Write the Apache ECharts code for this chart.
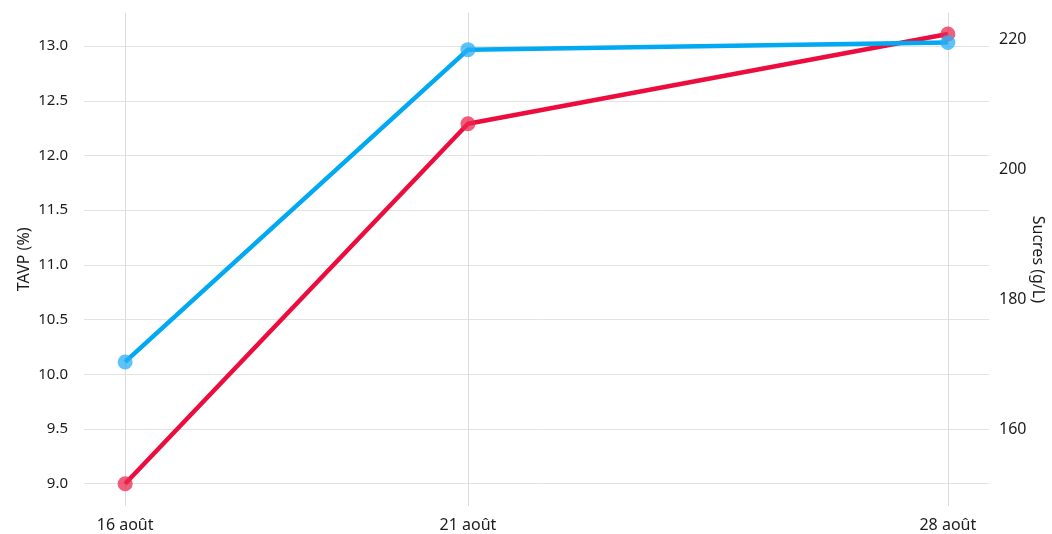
<!DOCTYPE html>
<html>
<head>
<meta charset="utf-8">
<script src="https://cdn.jsdelivr.net/npm/echarts@6/dist/echarts.min.js"></script>
<style>html,body{margin:0;padding:0;background:#fff}#c{width:1052px;height:534px}</style>
</head>
<body>
<div id="c"></div>
<script>
// Data
const days = [16, 21, 28];
const dayLabels = ['16 août', '21 août', '28 août'];
const tavp = [9.0, 12.29, 13.11];          // TAVP (%)
const sucres = [170.4, 218.5, 219.6];      // Sucres (g/L)
const tavpTicks = [9.0, 9.5, 10.0, 10.5, 11.0, 11.5, 12.0, 12.5, 13.0];
const sucresTicks = [160, 180, 200, 220];

const FACTOR = 16.85;
const yMin = 8.796, yMax = 13.305;
const font = '"Noto Sans", sans-serif';
const txt = '#1c1c1c';

const chart = echarts.init(document.getElementById('c'));
chart.setOption({
  animation: false,
  backgroundColor: '#fff',
  grid: { left: 84, right: 63, top: 12.7, bottom: 28, outerBoundsMode: 'none', containLabel: false },
  xAxis: {
    type: 'value', min: 15.4, max: 28.6,
    axisLine: { show: false }, axisTick: { show: false, customValues: days },
    splitLine: { show: true, lineStyle: { color: '#dcdcdc', width: 1 } },
    axisLabel: {
      customValues: days, margin: 11, color: txt, fontSize: 16, fontFamily: font,
      formatter: v => dayLabels[days.indexOf(v)]
    }
  },
  yAxis: [
    {
      type: 'value', min: yMin, max: yMax, position: 'left',
      name: 'TAVP (%)', nameLocation: 'middle', nameGap: 52, nameRotate: 90, nameMoveOverlap: false,
      nameTextStyle: { color: txt, fontSize: 16, fontFamily: font },
      axisLine: { show: false }, axisTick: { show: false, customValues: tavpTicks },
      splitLine: { show: true, lineStyle: { color: '#e3e3e3', width: 1 } },
      axisLabel: { customValues: tavpTicks, margin: 16, color: txt, fontSize: 15, fontFamily: font,
        formatter: v => v.toFixed(1) }
    },
    {
      type: 'value', min: yMin * FACTOR, max: yMax * FACTOR, position: 'right',
      name: 'Sucres (g/L)', nameLocation: 'middle', nameGap: 41, nameRotate: -90, nameMoveOverlap: false,
      nameTextStyle: { color: txt, fontSize: 16, fontFamily: font },
      axisLine: { show: false }, axisTick: { show: false, customValues: sucresTicks },
      splitLine: { show: false },
      axisLabel: { customValues: sucresTicks, margin: 10, color: txt, fontSize: 16, fontFamily: font }
    }
  ],
  series: [
    {
      name: 'TAVP', type: 'line', yAxisIndex: 0,
      data: days.map((d, i) => [d, tavp[i]]),
      symbol: 'circle', symbolSize: 15,
      lineStyle: { color: '#EC0C3E', width: 4.5 },
      itemStyle: { color: 'rgba(236,40,80,0.75)' }
    },
    {
      name: 'Sucres', type: 'line', yAxisIndex: 1,
      data: days.map((d, i) => [d, sucres[i]]),
      symbol: 'circle', symbolSize: 15,
      lineStyle: { color: '#00A9F2', width: 4.5 },
      itemStyle: { color: 'rgba(40,175,245,0.75)' }
    }
  ]
});
</script>
</body>
</html>
